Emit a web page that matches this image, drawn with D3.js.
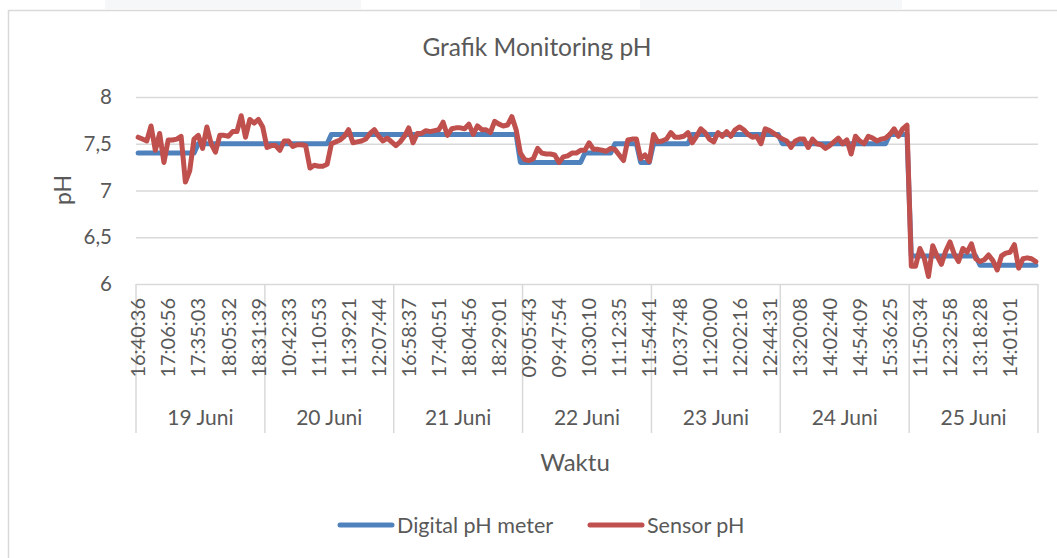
<!DOCTYPE html>
<html>
<head>
<meta charset="utf-8">
<title>Grafik Monitoring pH</title>
<script src="https://cdn.jsdelivr.net/npm/d3@7"></script>
<style>
    html, body { margin: 0; padding: 0; background: #fff; }
    svg { display: block; font-family: Lato, 'Noto Sans', sans-serif; }
    .grid line { stroke: #d9d9d9; stroke-width: 1.5; }
    .txt { fill: #595959; }
</style>
</head>
<body>
<svg id="chart" width="1057" height="558"></svg>
<script>
// === DATA ===
const days = ['19 Juni', '20 Juni', '21 Juni', '22 Juni', '23 Juni', '24 Juni', '25 Juni']

// readings per day and the label interval used on the time axis
const readingsPerDay = 30
const labelEvery = 7

// visible time labels, in order (every 7th reading)
const timeLabels = [
    '16:40:36', '17:06:56', '17:35:03', '18:05:32', '18:31:39',
    '10:42:33', '11:10:53', '11:39:21', '12:07:44',
    '16:58:37', '17:40:51', '18:04:56', '18:29:01',
    '09:05:43', '09:47:54', '10:30:10', '11:12:35', '11:54:41',
    '10:37:48', '11:20:00', '12:02:16', '12:44:31',
    '13:20:08', '14:02:40', '14:54:09', '15:36:25',
    '11:50:34', '12:32:58', '13:18:28', '14:01:01'
]

const yTicks = [6, 6.5, 7, 7.5, 8]

const digitalPH = [
    7.4, 7.4, 7.4, 7.4, 7.4, 7.4, 7.4, 7.4, 7.4, 7.4, 7.4, 7.4, 7.4, 7.4, 7.5, 7.5, 7.5, 7.5, 7.5, 7.5, 7.5, 7.5, 7.5, 7.5, 7.5, 7.5, 7.5, 7.5, 7.5, 7.5,
    7.5, 7.5, 7.5, 7.5, 7.5, 7.5, 7.5, 7.5, 7.5, 7.5, 7.5, 7.5, 7.5, 7.5, 7.5, 7.6, 7.6, 7.6, 7.6, 7.6, 7.6, 7.6, 7.6, 7.6, 7.6, 7.6, 7.6, 7.6, 7.6, 7.6,
    7.6, 7.6, 7.6, 7.6, 7.6, 7.6, 7.6, 7.6, 7.6, 7.6, 7.6, 7.6, 7.6, 7.6, 7.6, 7.6, 7.6, 7.6, 7.6, 7.6, 7.6, 7.6, 7.6, 7.6, 7.6, 7.6, 7.6, 7.6, 7.6, 7.3,
    7.3, 7.3, 7.3, 7.3, 7.3, 7.3, 7.3, 7.3, 7.3, 7.3, 7.3, 7.3, 7.3, 7.3, 7.4, 7.4, 7.4, 7.4, 7.4, 7.4, 7.4, 7.5, 7.5, 7.5, 7.5, 7.5, 7.5, 7.3, 7.3, 7.3,
    7.5, 7.5, 7.5, 7.5, 7.5, 7.5, 7.5, 7.5, 7.5, 7.6, 7.6, 7.6, 7.6, 7.6, 7.6, 7.6, 7.6, 7.6, 7.6, 7.6, 7.6, 7.6, 7.6, 7.6, 7.6, 7.6, 7.6, 7.6, 7.6, 7.6,
    7.5, 7.5, 7.5, 7.5, 7.5, 7.5, 7.5, 7.5, 7.5, 7.5, 7.5, 7.5, 7.5, 7.5, 7.5, 7.5, 7.5, 7.5, 7.5, 7.5, 7.5, 7.5, 7.5, 7.5, 7.5, 7.6, 7.6, 7.6, 7.6, 7.6,
    6.3, 6.3, 6.3, 6.3, 6.3, 6.3, 6.3, 6.3, 6.3, 6.3, 6.3, 6.3, 6.3, 6.3, 6.3, 6.3, 6.2, 6.2, 6.2, 6.2, 6.2, 6.2, 6.2, 6.2, 6.2, 6.2, 6.2, 6.2, 6.2, 6.2
]

const sensorPH = [
    7.57, 7.55, 7.53, 7.69, 7.43, 7.61, 7.30, 7.54, 7.54, 7.55, 7.58, 7.09, 7.21, 7.55, 7.59, 7.45, 7.68, 7.50, 7.41, 7.59, 7.59, 7.58, 7.63, 7.63, 7.80, 7.57, 7.76, 7.72, 7.76, 7.68,
    7.46, 7.48, 7.48, 7.43, 7.53, 7.53, 7.47, 7.49, 7.49, 7.48, 7.24, 7.27, 7.26, 7.26, 7.28, 7.50, 7.52, 7.54, 7.58, 7.65, 7.51, 7.52, 7.53, 7.55, 7.61, 7.65, 7.58, 7.53, 7.56, 7.52,
    7.48, 7.52, 7.58, 7.67, 7.51, 7.61, 7.61, 7.64, 7.63, 7.64, 7.65, 7.73, 7.59, 7.66, 7.67, 7.67, 7.66, 7.71, 7.60, 7.69, 7.65, 7.65, 7.62, 7.74, 7.71, 7.69, 7.70, 7.79, 7.65, 7.40,
    7.33, 7.32, 7.34, 7.45, 7.40, 7.39, 7.39, 7.38, 7.30, 7.36, 7.37, 7.40, 7.40, 7.43, 7.43, 7.51, 7.44, 7.44, 7.43, 7.42, 7.45, 7.44, 7.38, 7.32, 7.54, 7.55, 7.55, 7.34, 7.38, 7.31,
    7.60, 7.52, 7.53, 7.55, 7.62, 7.57, 7.57, 7.58, 7.62, 7.51, 7.58, 7.66, 7.62, 7.55, 7.52, 7.62, 7.58, 7.63, 7.58, 7.65, 7.68, 7.65, 7.60, 7.57, 7.58, 7.50, 7.66, 7.64, 7.61, 7.58,
    7.55, 7.53, 7.46, 7.53, 7.55, 7.55, 7.46, 7.55, 7.50, 7.49, 7.45, 7.48, 7.52, 7.56, 7.50, 7.54, 7.39, 7.58, 7.53, 7.50, 7.58, 7.56, 7.53, 7.55, 7.56, 7.60, 7.66, 7.58, 7.66, 7.70,
    6.19, 6.19, 6.38, 6.28, 6.08, 6.41, 6.30, 6.21, 6.35, 6.45, 6.32, 6.24, 6.38, 6.34, 6.43, 6.27, 6.24, 6.26, 6.31, 6.25, 6.15, 6.30, 6.33, 6.34, 6.42, 6.17, 6.27, 6.28, 6.27, 6.24
]

const series = [
    { name: 'Digital pH meter', values: digitalPH, color: '#4f81bd' },
    { name: 'Sensor pH', values: sensorPH, color: '#c0504d' }
]

// === LAYOUT ===
const W = 1057, H = 558
const plot = { left: 136, right: 1038, top: 97, bottom: 284 }
const axisBottom = 433

const svg = d3.select('#chart')

// page background strips and chart frame
svg.append('rect').attr('x', 105).attr('y', 0).attr('width', 256).attr('height', 9).attr('fill', '#f6f7f9')
svg.append('rect').attr('x', 640).attr('y', 0).attr('width', 262).attr('height', 9).attr('fill', '#f6f7f9')
svg.append('rect')
    .attr('x', 8.5).attr('y', 10.5)
    .attr('width', W + 20).attr('height', H + 20)
    .attr('fill', '#fff').attr('stroke', '#d9d9d9').attr('stroke-width', 1.5)

// === SCALES ===
const n = days.length * readingsPerDay
const x = d3.scaleBand().domain(d3.range(n)).range([plot.left, plot.right])
const xc = (i) => x(i) + x.bandwidth() / 2
const y = d3.scaleLinear().domain([6, 8]).range([plot.bottom, plot.top])

const fmt = d3.formatLocale({ decimal: ',', thousands: '.', grouping: [3], currency: ['', ''] }).format('~g')

// === Y AXIS + GRID ===
const yAxis = svg.append('g')
    .attr('class', 'grid')
    .attr('transform', `translate(${plot.left},0)`)
    .call(d3.axisLeft(y).tickValues(yTicks).tickSize(-(plot.right - plot.left)).tickPadding(24).tickFormat(fmt))
yAxis.select('.domain').remove()
yAxis.selectAll('text')
    .attr('class', 'txt')
    .style('font-size', '20.5px')
    .style('font-family', 'Lato, sans-serif')

// === X AXIS (time + day levels) ===
const xAxis = svg.append('g')

const bounds = d3.range(days.length + 1).map(d => d === days.length ? plot.right : x(d * readingsPerDay))
xAxis.selectAll('line.sep')
    .data(bounds)
    .join('line')
    .attr('class', 'sep')
    .attr('x1', d => d).attr('x2', d => d)
    .attr('y1', plot.bottom).attr('y2', axisBottom)
    .attr('stroke', '#d9d9d9').attr('stroke-width', 1.5)

const labelIdx = d3.range(0, n, labelEvery)
xAxis.selectAll('text.time')
    .data(labelIdx)
    .join('text')
    .attr('class', 'time txt')
    .attr('transform', d => `translate(${xc(d)},${plot.bottom + 14}) rotate(-90)`)
    .attr('text-anchor', 'end')
    .attr('dy', '0.36em')
    .style('font-size', '20px')
    .text((d, k) => timeLabels[k])

xAxis.selectAll('text.day')
    .data(days)
    .join('text')
    .attr('class', 'day txt')
    .attr('x', (d, k) => (bounds[k] + bounds[k + 1]) / 2)
    .attr('y', 425)
    .attr('text-anchor', 'middle')
    .style('font-size', '21px')
    .text(d => d)

// === LINES ===
const line = d3.line()
    .x((d, i) => xc(i))
    .y(d => y(d))

svg.append('g')
    .selectAll('path')
    .data(series)
    .join('path')
    .attr('d', d => line(d.values))
    .attr('fill', 'none')
    .attr('stroke', d => d.color)
    .attr('stroke-width', 5)
    .attr('stroke-linejoin', 'round')
    .attr('stroke-linecap', 'round')

// === TITLES ===
svg.append('text')
    .attr('class', 'txt')
    .attr('x', 537).attr('y', 56)
    .attr('text-anchor', 'middle')
    .style('font-size', '24.5px')
    .text('Grafik Monitoring pH')

svg.append('text')
    .attr('class', 'txt')
    .attr('transform', 'translate(71,190) rotate(-90)')
    .attr('text-anchor', 'middle')
    .style('font-size', '23px')
    .text('pH')

svg.append('text')
    .attr('class', 'txt')
    .attr('x', 575).attr('y', 471)
    .attr('text-anchor', 'middle')
    .style('font-size', '24px')
    .text('Waktu')

// === LEGEND ===
const legend = svg.append('g')
    .selectAll('g')
    .data(series)
    .join('g')
    .attr('transform', (d, i) => `translate(${i === 0 ? 340 : 590},525)`)

legend.append('line')
    .attr('x1', 0).attr('x2', 52)
    .attr('stroke', d => d.color)
    .attr('stroke-width', 5)
    .attr('stroke-linecap', 'round')

legend.append('text')
    .attr('class', 'txt')
    .attr('x', 57).attr('dy', '0.35em')
    .style('font-size', '21.5px')
    .text(d => d.name)
</script>
</body>
</html>
